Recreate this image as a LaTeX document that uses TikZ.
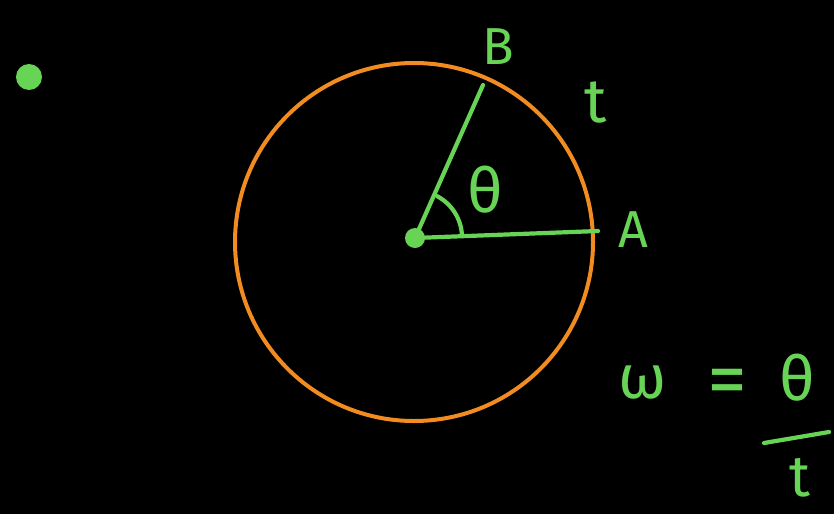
\documentclass[tikz,border=0pt]{standalone}
\usepackage{fontspec}
\setsansfont{Fira Sans}
\usepackage{xcolor}
\usepackage{tikz}
\usetikzlibrary{positioning,calc}
\definecolor{chalkgreen}{RGB}{104,212,86}
\definecolor{chalkorange}{RGB}{242,140,32}

\begin{document}
\begin{tikzpicture}[x=1pt, y=-1pt,
  stroke/.style={chalkgreen, line width=4.2pt, line cap=round},
  lbl/.style={text=chalkgreen, font=\sffamily\fontsize{52}{52}\selectfont, inner sep=0pt},
  big/.style={lbl, font=\sffamily\fontsize{62}{62}\selectfont},
  dot/.style={circle, fill=chalkgreen, inner sep=0pt, minimum size=#1}]
\fill[black] (0,0) rectangle (834,514);
\useasboundingbox (0,0) rectangle (834,514);
% circle and the two radii
\draw[chalkorange, line width=4pt] (414,242) circle[radius=179];
\node[dot=20pt] (o) at (415,238) {};
\coordinate (a) at (598,231);
\coordinate (b) at (483,85);
\draw[stroke] (o.center) -- (a);
\draw[stroke] (o.center) -- (b);
\draw[stroke] ($(o.center)+(47,-2)$) arc[start angle=-2, end angle=-62, radius=47];
\node[big] (th) at (485,190) {θ};
\node[lbl] (nb) at (498,47) {B};
\node[big] (nt) at (596,103) {t};
\node[lbl] (na) at (633,230) {A};
% lone point
\node[dot=26pt] (p) at (29,77) {};
% formula
\node[big] (w) at (643,383) {ω};
\node[big, font=\sffamily\fontsize{80}{80}\selectfont] (eq) at (727,388) {=};
\node[big] (num) at (797,378) {θ};
\node[big, font=\sffamily\fontsize{58}{58}\selectfont] (den) at (800,478) {t};
\coordinate (f1) at (764,443);
\coordinate (f2) at (829,432);
\draw[stroke] (f1) -- (f2);
\end{tikzpicture}
\end{document}
